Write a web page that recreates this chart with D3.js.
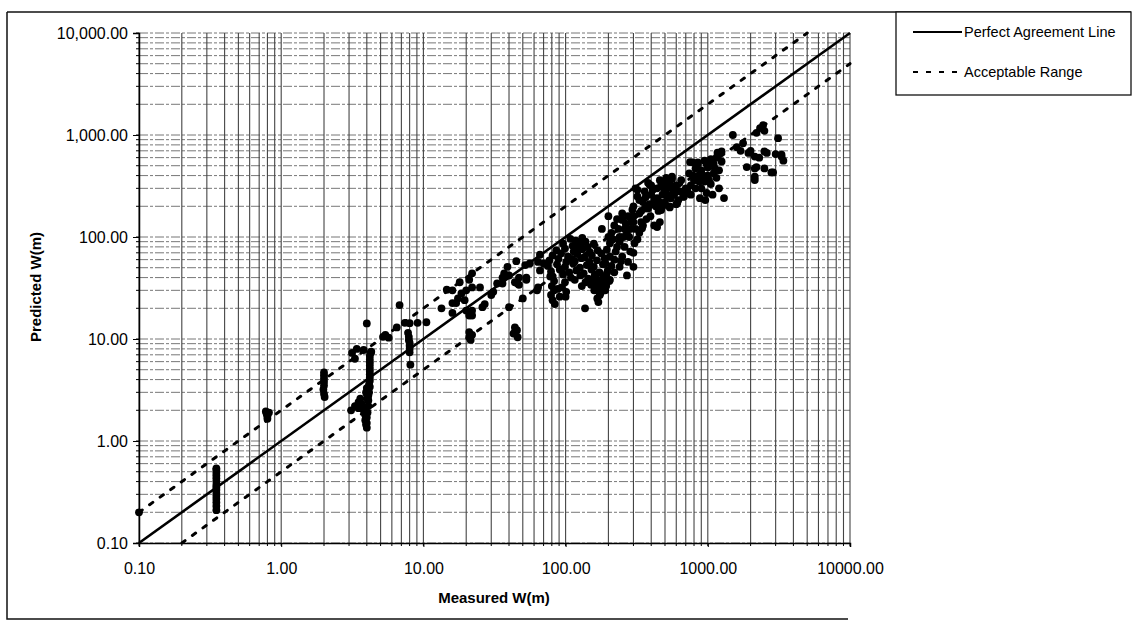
<!DOCTYPE html>
<html><head><meta charset="utf-8">
<script src="https://cdn.jsdelivr.net/npm/d3@7"></script>
<style>body{margin:0;background:#fff}svg{display:block}text{font-family:"Liberation Sans",Arial,sans-serif}</style>
</head><body><svg id="c" width="1140" height="622"></svg>
<script>
// ---- data (Measured W(m), Predicted W(m)) ----
const xTickValues = [0.1, 1, 10, 100, 1000, 10000];
const xTickLabels = ["0.10", "1.00", "10.00", "100.00", "1000.00", "10000.00"];
const yTickValues = [0.1, 1, 10, 100, 1000, 10000];
const yTickLabels = ["0.10", "1.00", "10.00", "100.00", "1,000.00", "10,000.00"];
const legendLabels = ["Perfect Agreement Line", "Acceptable Range"];

const lowPoints = [
  [0.1,0.2],
  [0.35,0.21],[0.35,0.23],[0.35,0.25],[0.35,0.27],[0.35,0.29],[0.35,0.31],[0.35,0.33],[0.35,0.35],
  [0.35,0.37],[0.35,0.40],[0.35,0.43],[0.35,0.46],[0.35,0.49],[0.35,0.52],[0.35,0.54],
  [0.78,1.95],[0.79,1.85],[0.8,1.75],[0.8,1.65],[0.82,1.9],
  [2.0,4.7],[2.0,4.4],[2.0,4.1],[2.0,3.8],[2.0,3.5],[1.98,3.2],[2.0,2.9],[2.02,2.7],
  [3.1,2.0],[3.3,2.2],[3.5,2.4],[3.6,2.6],[3.7,2.3],[3.8,2.0],[3.9,1.8],[3.9,1.6],[3.95,1.45],[4.0,1.35],[3.5,2.1],
  [4.1,2.2],[4.1,2.5],[4.1,2.8],[4.15,3.0],[4.1,3.2],[4.2,3.4],[4.15,3.6],[4.2,3.9],[4.2,4.2],[4.2,4.5],
  [4.2,4.8],[4.2,5.1],[4.2,5.5],[4.2,5.9],[4.2,6.3],[4.2,6.8],[4.25,7.3],[4.0,3.3],[4.0,2.9],[4.05,2.6],
  [3.95,3.0],[4.0,1.7],[4.0,1.5],[4.05,1.9],[4.0,14.2],
  [3.15,7.3],[3.4,8.0],[3.8,7.8],[4.3,7.5],[3.3,6.4],
  [7.8,11.5],[7.9,10.5],[7.9,9.8],[8.0,9.2],[8.0,8.6],[8.0,8.0],[8.0,7.4],[8.1,5.6],[8.0,14.3],
  [5.4,11],[5.7,10.3],[6.5,13],[6.8,21.5],[5.2,10.5],
  [9.1,14.4],[10.5,14.6],[7.4,14.4],
  [13.4,20],[16,22.5],[17.5,25],[14.6,30.4],[16,18],[17,22.5]
];

const midPoints = [
  [20,30],[21,18.5],[22,19],[21,17],[22,17],[20,19],[19.5,24],[18.5,28],[25,32],[22,32],[21,38],[22,44],[18,36],[16,30],
  [27,22],[31,29],[26,20.5],[21,11.7],[21,10.4],[21.5,9.8],[22,11],
  [44,13],[44,11.7],[46,10.4],[43,11.3],[45.5,12.2],
  [36,40],[36,35],[37,44],[40,42],[47,40],[46,35],[44,36],[47,34],[53,38],[53,40],[52,53],[56,55],[64,57],[64,32],[63,30],
  [66,67],[70,55],[78,41],[66,47],[50,25],[40,20.5],[39,51],[45,58],[33,35],[30,27],
  [108,96],[118,92],[131,98],[124,88],
  [96,86],[112,82],[127,84],[143,80],[158,86],[138,90],
  [86,74],[99,77],[114,72],[131,76],[148,71],[168,74],[122,79],
  [81,66],[93,69],[104,64],[121,68],[136,63],[153,66],[178,69],[111,61],
  [77,59],[89,61],[101,57],[116,58],[129,62],[147,57],[166,59],[188,62],
  [75,52],[87,54],[99,51],[113,55],[126,50],[141,53],[158,51],[183,54],[93,48],
  [79,46],[91,48],[106,45],[119,47],[134,44],[152,48],[173,45],[198,47],
  [81,41],[96,43],[109,40],[127,42],[144,39],[163,43],[186,40],
  [83,37],[99,36],[116,38],[138,36],[158,38],[181,35],[203,37],
  [80,33],[94,32],[151,34],[168,32],[193,33],[130,33],
  [83,30],[101,29],[159,30],[178,29],[88,31],
  [79,27],[91,26],[174,27],[100,26],[167,25],
  [81,24],[170,23],[84,22],[137,20],
  [160,42],[170,38],[180,34],[190,30],[175,28],[165,33],[185,40],[200,38],[195,44],
  [205,38],[220,45],[250,64],[275,57],[300,51],[270,42],[240,51],[285,72],[305,87],[230,80],
  [240,100],[270,110],[205,87],[195,75],[210,110],[250,147],[295,185],[300,140],[275,160],
  [180,120],[200,100],[220,130],[240,90],[260,120],[280,100],[300,70],[320,95],[260,80],[220,60],
  [190,55],[230,150],[290,140],[310,120],[330,110],[300,160],[340,140],[200,160],[250,170],[205,64],
  [215,95],[235,120],[265,135],[285,120],[255,100],[225,72],[210,52],[245,58]
];

const highPoints = [
  [300,200],[320,250],[330,170],[350,220],[360,280],[370,150],[380,190],[400,260],[400,320],[420,230],
  [440,300],[450,180],[460,140],[480,260],[500,350],[500,220],[520,300],[540,200],[560,370],[580,260],
  [600,320],[620,230],[640,280],[350,130],[420,130],[310,300],[330,230],[380,340],[460,360],[480,200],
  [520,250],[570,300],[600,210],[650,360],[340,180],[390,210],[440,240],[490,300],[540,330],[590,280],
  [320,290],[390,325],[510,380],[560,390],[440,125],[470,184],[540,195],[610,215],[345,122],
  [365,245],[410,290],[430,200],[470,320],[505,270],[550,240],[360,190],[395,160],[455,220],[520,350],
  [680,250],[720,280],[760,320],[800,360],[760,260],[820,300],[860,400],[900,450],[950,350],[900,300],
  [1000,400],[1000,480],[1050,330],[1100,420],[1100,520],[1150,380],[1200,450],[1200,300],[850,520],[780,540],
  [950,560],[1050,580],[880,240],[980,270],[1080,260],[740,420],[820,470],[1150,600],[1250,550],[960,230],
  [1300,241],[750,543],[850,540],[1170,670],[1250,690],[700,300],[670,247],[720,270],
  [790,400],[930,400],[1020,360],[870,350],[1120,470],[980,520],
  [1500,1000],[1770,830],[1930,667],[2140,615],[2140,470],[2140,362],[2140,390],[2600,667],[2880,430],[3300,640],
  [1880,485],[2330,1170],[2200,1050],[2450,1250],[2500,1100],[3120,930],[3300,615],[2500,690],[2200,485],[2500,470],
  [2800,430],[1600,760],[2000,700],[3000,650],[3400,560],[2300,600],[1700,700]
];

// ---- drawing ----
const svg = d3.select("#c");
const L = 139, R = 850, T = 33, B = 543;
const x = d3.scaleLog().domain([0.1, 10000]).range([L, R]);
const y = d3.scaleLog().domain([0.1, 10000]).range([B, T]);

// outer frame
svg.append("path").attr("d", `M7,12 L7,619 L848,619`).attr("fill","none").attr("stroke","#111").attr("stroke-width",1.5);
svg.append("line").attr("x1",7).attr("x2",1131).attr("y1",12).attr("y2",12).attr("stroke","#111").attr("stroke-width",1.5);

// minor values
const minors = [];
for (let e = -1; e < 4; e++) for (let m = 1; m < 10; m++) minors.push(m * Math.pow(10, e));
minors.push(10000);

const g = svg.append("g");
g.selectAll("line.h").data(minors).join("line")
  .attr("x1", L).attr("x2", R).attr("y1", d => y(d)).attr("y2", d => y(d))
  .attr("stroke", "#777").attr("stroke-width", 1).attr("stroke-dasharray", "9,2,3,2");
g.selectAll("line.v").data(minors).join("line")
  .attr("y1", T).attr("y2", B).attr("x1", d => x(d)).attr("x2", d => x(d))
  .attr("stroke", "#444").attr("stroke-width", 1.1);

// axes
const yAxis = d3.axisLeft(y).tickValues(yTickValues).tickFormat((d, i) => yTickLabels[i]).tickSize(6).tickPadding(5);
const ya = svg.append("g").attr("transform", `translate(${L},0)`).call(yAxis);
ya.selectAll("text").attr("font-size", 16).attr("fill", "#000").attr("font-family", '"Liberation Sans",Arial,sans-serif');
ya.select(".domain").attr("stroke", "#000").attr("stroke-width", 1.5);
const xAxis = d3.axisBottom(x).tickValues(xTickValues).tickFormat((d, i) => xTickLabels[i]).tickSize(4).tickPadding(16);
const xa = svg.append("g").attr("transform", `translate(0,${B})`).call(xAxis);
xa.selectAll("text").attr("font-size", 16).attr("fill", "#000").attr("font-family", '"Liberation Sans",Arial,sans-serif');
xa.select(".domain").attr("stroke", "#000").attr("stroke-width", 1.5);
svg.append("g").selectAll("line").data(minors).join("line")
  .attr("x1", d => x(d)).attr("x2", d => x(d)).attr("y1", B).attr("y2", B + 3).attr("stroke", "#000");
svg.append("g").selectAll("line").data(minors).join("line")
  .attr("y1", d => y(d)).attr("y2", d => y(d)).attr("x1", L - 3).attr("x2", L).attr("stroke", "#000");

// lines
const line = d3.line().x(d => x(d[0])).y(d => y(d[1]));
svg.append("path").attr("d", line([[0.1, 0.1], [10000, 10000]])).attr("stroke", "#000").attr("stroke-width", 2.6).attr("fill", "none");
const dashed = { stroke: "#000", "stroke-width": 3, "stroke-dasharray": "4,9", "stroke-linecap": "round", fill: "none" };
const up = svg.append("path").attr("d", line([[0.1, 0.2], [5000, 10000]]));
const lo = svg.append("path").attr("d", line([[0.2, 0.1], [10000, 5000]]));
for (const p of [up, lo]) for (const k in dashed) p.attr(k, dashed[k]);

// points
const allPoints = lowPoints.concat(midPoints, highPoints);
svg.append("g").selectAll("circle").data(allPoints).join("circle")
  .attr("cx", d => x(d[0])).attr("cy", d => y(d[1])).attr("r", 3.9).attr("fill", "#000");

// axis titles
svg.append("text").attr("x", 494).attr("y", 603).attr("text-anchor", "middle")
  .attr("font-size", 15).attr("font-weight", "bold").text("Measured W(m)");
svg.append("text").attr("transform", "translate(41,287) rotate(-90)").attr("text-anchor", "middle")
  .attr("font-size", 15).attr("font-weight", "bold").text("Predicted W(m)");

// legend
const lg = svg.append("g");
lg.append("rect").attr("x", 896).attr("y", 12).attr("width", 235).attr("height", 83)
  .attr("fill", "#fff").attr("stroke", "#111").attr("stroke-width", 1.3);
lg.append("line").attr("x1", 913).attr("x2", 962).attr("y1", 32).attr("y2", 32).attr("stroke", "#000").attr("stroke-width", 2.2);
const ld = lg.append("line").attr("x1", 913).attr("x2", 962).attr("y1", 72).attr("y2", 72);
ld.attr("stroke", "#000").attr("stroke-width", 2.2).attr("stroke-dasharray", "5,8");
lg.append("text").attr("x", 964).attr("y", 37).attr("font-size", 14.5).text(legendLabels[0]);
lg.append("text").attr("x", 964).attr("y", 77).attr("font-size", 14.5).text(legendLabels[1]);
</script></body></html>
